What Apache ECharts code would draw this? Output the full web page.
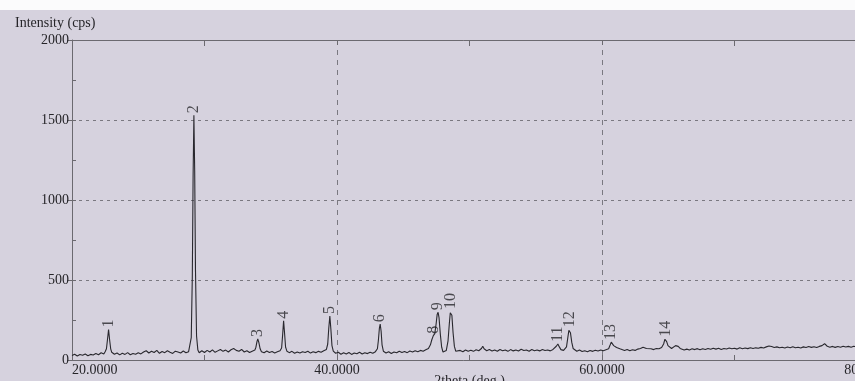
<!DOCTYPE html>
<html>
<head>
<meta charset="utf-8">
<title>XRD pattern</title>
<script src="https://cdn.jsdelivr.net/npm/echarts@6/dist/echarts.min.js"></script>
<style>
  html, body { margin: 0; padding: 0; background: #d6d2de; }
  #chart { width: 855px; height: 381px; }
</style>
</head>
<body>
<div id="chart"></div>
<script>
// [2theta (deg.), intensity (cps)]
const scan = [
  [20.0, 28], [20.2, 36], [20.4, 25], [20.6, 34], [20.8, 30], [21.0, 38], [21.2, 27], [21.4, 35],
  [21.6, 31], [21.8, 40], [22.0, 33], [22.2, 45], [22.4, 38], [22.5, 52],
  [22.6, 70], [22.68, 130], [22.76, 190], [22.84, 125], [22.92, 70], [23.0, 48],
  [23.2, 36], [23.4, 44], [23.6, 32], [23.8, 42], [24.0, 35], [24.2, 46], [24.4, 33], [24.6, 41],
  [24.8, 36], [25.0, 45], [25.2, 38], [25.4, 50], [25.6, 58], [25.8, 44], [26.0, 55], [26.2, 47],
  [26.4, 60], [26.6, 42], [26.8, 53], [27.0, 46], [27.2, 58], [27.4, 49], [27.6, 41], [27.8, 55],
  [28.0, 50], [28.2, 44], [28.4, 56], [28.6, 45], [28.8, 52],
  [28.9, 60], [29.0, 140], [29.08, 520], [29.14, 1150], [29.2, 1530], [29.26, 1180], [29.32, 560],
  [29.4, 150], [29.5, 62],
  [29.6, 45], [29.8, 58], [30.0, 47], [30.2, 60], [30.4, 50], [30.6, 63], [30.8, 48], [31.0, 57],
  [31.2, 66], [31.4, 54], [31.6, 62], [31.8, 50], [32.0, 64], [32.2, 72], [32.3, 84], [32.4, 60],
  [32.6, 55], [32.8, 66], [33.0, 50], [33.2, 58], [33.4, 47], [33.6, 55], [33.8, 62],
  [33.88, 80], [33.96, 115], [34.02, 132], [34.1, 110], [34.2, 70], [34.3, 52],
  [34.5, 45], [34.7, 56], [34.9, 47], [35.1, 53], [35.3, 44], [35.5, 51], [35.7, 58],
  [35.82, 75], [35.9, 160], [35.97, 245], [36.04, 170], [36.12, 80], [36.22, 55],
  [36.4, 46], [36.6, 54], [36.8, 42], [37.0, 50], [37.2, 44], [37.4, 52], [37.6, 47], [37.8, 55],
  [38.0, 43], [38.2, 51], [38.4, 46], [38.6, 54], [38.8, 49], [39.0, 58], [39.2, 66],
  [39.3, 100], [39.38, 200], [39.46, 275], [39.54, 190], [39.62, 90], [39.72, 55],
  [39.9, 42], [40.1, 48], [40.3, 36], [40.5, 45], [40.7, 38], [40.9, 47], [41.1, 35], [41.3, 44],
  [41.5, 39], [41.7, 48], [41.9, 37], [42.1, 45], [42.3, 40], [42.5, 49], [42.7, 42], [42.9, 52],
  [43.05, 70], [43.12, 120], [43.2, 200], [43.26, 224], [43.33, 180], [43.4, 95], [43.5, 55],
  [43.7, 44], [43.9, 52], [44.1, 41], [44.3, 50], [44.5, 45], [44.7, 55], [44.9, 47], [45.1, 53],
  [45.3, 46], [45.5, 56], [45.7, 50], [45.9, 58], [46.1, 52], [46.3, 60], [46.5, 55], [46.7, 64],
  [46.9, 72], [47.05, 95], [47.15, 125], [47.27, 152], [47.38, 165], [47.48, 225], [47.56, 285],
  [47.63, 298], [47.7, 265], [47.8, 160], [47.9, 80], [48.0, 50], [48.1, 45],
  [48.25, 60], [48.38, 120], [48.48, 230], [48.55, 295], [48.6, 306], [48.67, 280], [48.76, 170],
  [48.86, 85], [48.96, 55],
  [49.1, 50], [49.3, 60], [49.5, 52], [49.7, 63], [49.9, 55], [50.1, 61], [50.3, 54], [50.5, 64],
  [50.7, 58], [50.9, 72], [51.0, 86], [51.1, 70], [51.3, 58], [51.5, 65], [51.7, 56], [51.9, 63],
  [52.1, 55], [52.3, 66], [52.5, 58], [52.7, 62], [52.9, 54], [53.1, 65], [53.3, 57], [53.5, 63],
  [53.7, 56], [53.9, 67], [54.1, 59], [54.3, 62], [54.5, 55], [54.7, 66], [54.9, 58], [55.1, 63],
  [55.3, 57], [55.5, 65], [55.7, 59], [55.9, 62], [56.1, 57], [56.3, 66], [56.45, 72],
  [56.55, 86], [56.67, 100], [56.78, 82], [56.9, 65], [57.0, 72], [57.1, 60],
  [57.2, 62], [57.32, 82], [57.42, 140], [57.5, 185], [57.55, 192], [57.62, 170], [57.72, 110],
  [57.82, 72], [57.95, 60],
  [58.1, 55], [58.3, 62], [58.5, 53], [58.7, 58], [58.9, 52], [59.1, 60], [59.3, 54], [59.5, 61],
  [59.7, 56], [59.9, 63], [60.1, 58], [60.3, 64], [60.5, 70],
  [60.62, 95], [60.7, 112], [60.78, 106], [60.88, 90], [61.0, 96], [61.1, 78], [61.2, 86],
  [61.35, 70], [61.5, 66],
  [61.7, 60], [61.9, 66], [62.1, 58], [62.3, 64], [62.5, 60], [62.7, 68], [62.9, 72], [63.1, 80],
  [63.2, 86], [63.35, 72], [63.5, 66], [63.7, 70], [63.9, 65], [64.1, 72], [64.3, 70], [64.5, 78],
  [64.65, 100], [64.75, 130], [64.8, 133], [64.88, 115], [64.98, 90], [65.1, 78], [65.25, 72],
  [65.4, 80], [65.55, 90], [65.65, 96], [65.75, 85], [65.9, 72], [66.05, 65],
  [66.2, 62], [66.4, 68], [66.6, 63], [66.8, 70], [67.0, 65], [67.2, 71], [67.4, 64], [67.6, 70],
  [67.8, 66], [68.0, 72], [68.2, 67], [68.4, 74], [68.6, 68], [68.8, 73], [69.0, 66], [69.2, 72],
  [69.4, 69], [69.6, 75], [69.8, 70], [70.0, 74], [70.2, 68], [70.4, 76], [70.6, 70], [70.8, 75],
  [71.0, 71], [71.2, 77], [71.4, 72], [71.6, 76], [71.8, 73], [72.0, 79], [72.2, 75], [72.4, 82],
  [72.6, 88], [72.8, 84], [73.0, 78], [73.2, 82], [73.4, 76], [73.6, 80], [73.8, 75], [74.0, 81],
  [74.2, 77], [74.4, 83], [74.6, 76], [74.8, 80], [75.0, 75], [75.2, 82], [75.4, 78], [75.6, 84],
  [75.8, 79], [76.0, 83], [76.2, 78], [76.4, 85], [76.6, 90], [76.8, 102], [76.9, 96], [77.0, 86],
  [77.2, 80], [77.4, 85], [77.6, 79], [77.8, 84], [78.0, 80], [78.2, 86], [78.4, 81], [78.6, 85],
  [78.8, 80], [79.0, 86], [79.2, 82], [79.4, 87], [79.6, 83], [79.8, 88], [80.0, 84]
];

// numbered peaks: name, 2theta, top intensity
const peakNames = ['1', '2', '3', '4', '5', '6', '8', '9', '10', '11', '12', '13', '14'];
const peakTheta = [22.76, 29.2, 34.02, 35.97, 39.46, 43.26, 47.27, 47.63, 48.6, 56.67, 57.55, 60.7, 64.8];
const peakTop   = [190, 1530, 132, 245, 275, 224, 152, 298, 306, 100, 192, 112, 133];

const xTicks = [20, 40, 60, 80];
const yTicks = [0, 500, 1000, 1500, 2000];

const ink = '#262529';
const rule = '#6c6a70';
const serif = 'Liberation Serif';

const chart = echarts.init(document.getElementById('chart'));

const peaks = peakNames.map((n, i) => [peakTheta[i], peakTop[i], n]);

chart.setOption({
  animation: false,
  backgroundColor: '#d6d2de',
  textStyle: { fontFamily: serif, color: ink },
  title: {
    text: 'Intensity (cps)',
    left: 15,
    top: 16,
    padding: 0,
    textStyle: { fontFamily: serif, fontSize: 14, fontWeight: 'normal', color: ink }
  },
  graphic: [{
    type: 'rect',
    shape: { x: 0, y: 0, width: 855, height: 10 },
    style: { fill: '#fbfbfc' },
    silent: true
  }],
  grid: { left: 72, right: -12, top: 40, bottom: 21, outerBoundsMode: 'none', containLabel: false },
  xAxis: [
    {
      type: 'value',
      position: 'bottom',
      min: xTicks[0],
      max: xTicks[xTicks.length - 1],
      interval: xTicks[1] - xTicks[0],
      name: '2theta (deg.)',
      nameLocation: 'middle',
      nameGap: 14,
      nameMoveOverlap: false,
      nameTextStyle: { fontFamily: serif, fontSize: 14, color: ink },
      axisLine: { show: true, onZero: false, lineStyle: { color: rule, width: 1 } },
      axisTick: { show: true, inside: true, length: 5, lineStyle: { color: rule } },
      minorTick: { show: true, splitNumber: 2, length: 5, lineStyle: { color: rule } },
      axisLabel: {
        margin: 3,
        fontSize: 14,
        color: ink,
        fontFamily: serif,
        alignMinLabel: 'left',
        showMinLabel: true,
        showMaxLabel: true,
        formatter: v => v.toFixed(4)
      },
      splitLine: { show: true, lineStyle: { color: '#7a7880', type: [5, 5], width: 1 } }
    },
    {
      type: 'value',
      position: 'top',
      min: xTicks[0],
      max: xTicks[xTicks.length - 1],
      interval: xTicks[1] - xTicks[0],
      axisLine: { show: true, onZero: false, lineStyle: { color: rule, width: 1 } },
      axisTick: { show: true, inside: true, length: 5, lineStyle: { color: rule } },
      minorTick: { show: true, splitNumber: 2, length: 6, lineStyle: { color: rule } },
      axisLabel: { show: false },
      splitLine: { show: false }
    }
  ],
  yAxis: [
    {
      type: 'value',
      position: 'left',
      min: yTicks[0],
      max: yTicks[yTicks.length - 1],
      interval: yTicks[1] - yTicks[0],
      axisLine: { show: true, onZero: false, lineStyle: { color: rule, width: 1 } },
      axisTick: { show: true, inside: false, length: 5, lineStyle: { color: rule } },
      axisLabel: { margin: 3, fontSize: 14, color: ink, fontFamily: serif, formatter: v => String(v) },
      splitLine: { show: true, lineStyle: { color: '#7a7880', type: [3, 4], width: 1 } }
    },
    {
      // inward minor ticks at every 250 cps
      type: 'value',
      position: 'left',
      min: yTicks[0],
      max: yTicks[yTicks.length - 1],
      interval: (yTicks[1] - yTicks[0]) / 2,
      axisLine: { show: false, onZero: false },
      axisTick: { show: true, inside: true, length: 4, lineStyle: { color: rule } },
      axisLabel: { show: false },
      splitLine: { show: false }
    }
  ],
  series: [
    {
      name: 'scan',
      type: 'line',
      data: scan,
      showSymbol: false,
      symbol: 'none',
      lineStyle: { color: '#29282e', width: 1.1 },
      z: 3
    },
    {
      name: 'peaks',
      type: 'scatter',
      data: peaks,
      symbolSize: 0,
      silent: true,
      z: 4,
      label: {
        show: true,
        position: 'top',
        distance: 2,
        rotate: 90,
        align: 'left',
        verticalAlign: 'middle',
        fontFamily: serif,
        fontSize: 16,
        color: ink,
        formatter: p => p.data[2]
      }
    }
  ]
});

window.addEventListener('resize', () => chart.resize());
</script>
</body>
</html>
